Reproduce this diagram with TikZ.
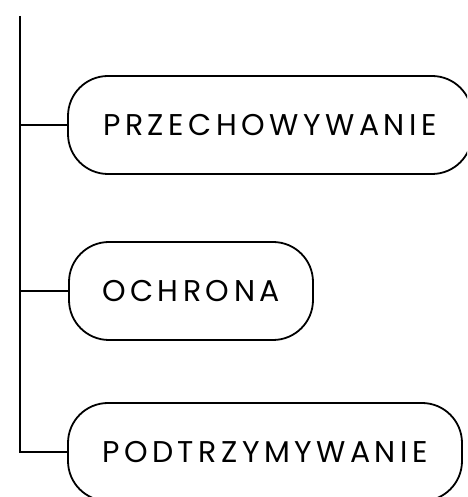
\documentclass[tikz,border=0pt]{standalone}
\usepackage{fontspec}
\setmainfont{Poppins}[LetterSpace=15]
\begin{document}
\begin{tikzpicture}[x=1pt,y=1pt,
  pill/.style={draw=black, line width=1.8pt, rounded corners=40pt, minimum height=98pt, inner sep=0pt, font=\fontsize{30}{32}\selectfont, text=black},
  conn/.style={draw=black, line width=1.8pt}]
\useasboundingbox (0,0) rectangle (467,497);
\clip (0,0) rectangle (467,497);
\node[pill, minimum width=404pt] (p1) at (270,372) {PRZECHOWYWANIE};
\node[pill, minimum width=244pt] (p2) at (191,206) {OCHRONA};
\node[pill, minimum width=394pt] (p3) at (265,45) {PODTRZYMYWANIE};
\coordinate (top) at (20,481);
\coordinate (b1) at (20,372);
\coordinate (b2) at (20,206);
\coordinate (b3) at (20,45);
\draw[conn] (top) -- (b3) -- (p3.west);
\draw[conn] (b1) -- (p1.west);
\draw[conn] (b2) -- (p2.west);
\end{tikzpicture}
\end{document}
